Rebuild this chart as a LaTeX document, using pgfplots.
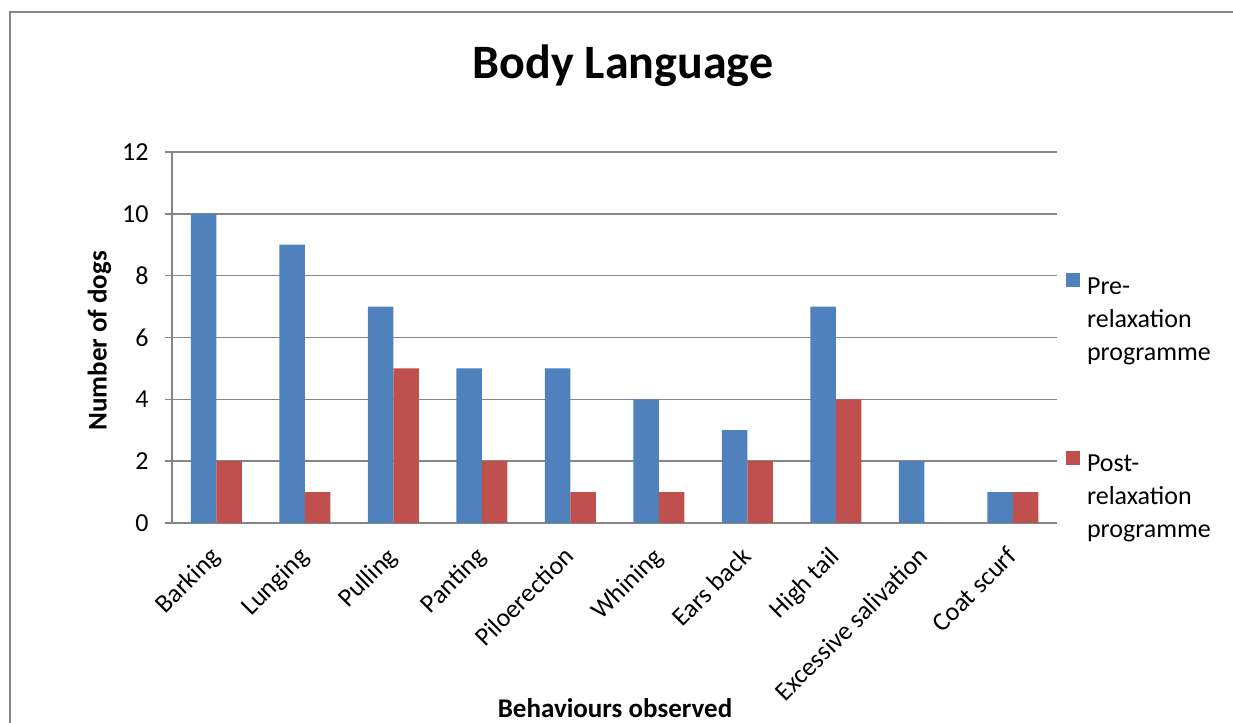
\documentclass[border=0pt]{standalone}
\usepackage{fontspec}
\setmainfont{Carlito}
\usepackage{pgfplots}
\pgfplotsset{compat=1.18}
\definecolor{barblue}{RGB}{79,129,189}
\definecolor{barred}{RGB}{192,80,77}
\definecolor{gridgray}{RGB}{134,134,134}
\begin{document}
\begin{tikzpicture}[x=0.5bp,y=0.5bp]
\useasboundingbox (0,0) rectangle (1233,722);
\draw[gridgray, line width=1.2bp] (10,710) rectangle (1260,-30);
\begin{axis}[
  at={(86bp,99.5bp)}, anchor=south west,
  scale only axis, width=442.5bp, height=185.5bp,
  ybar=0pt, bar width=12.75bp,
  xmin=-0.5, xmax=9.5, ymin=0, ymax=12,
  ytick={0,2,...,12},
  xtick={0,...,9},
  xticklabels={Barking,Lunging,Pulling,Panting,Piloerection,Whining,Ears back,High tail,Excessive salivation,Coat scurf},
  axis x line*=bottom, axis y line*=left,
  axis line style={gridgray, line width=0.8bp, -},
  ymajorgrids, grid style={gridgray, line width=0.8bp},
  xtick style={draw=none},
  ytick style={gridgray, line width=0.8bp},
  tick align=outside, major tick length=3.5bp,
  /pgf/number format/assume math mode=true,
  tick label style={font=\fontsize{13bp}{15.6bp}\selectfont, black},
  xticklabel style={rotate=45, anchor=north east, inner sep=0pt, xshift=-8bp, yshift=-2.6bp},
  yticklabel style={inner sep=0pt, xshift=-8bp},
  title={\textbf{Body Language}},
  title style={font=\fontsize{24bp}{28bp}\selectfont, at={(rel axis cs:0.5096,1.166)}, anchor=base},
  xlabel={\textbf{Behaviours observed}},
  xlabel style={font=\fontsize{13.5bp}{16bp}\selectfont, at={(rel axis cs:0.5006,-0.523)}, anchor=base},
  ylabel={\textbf{Number of dogs}},
  ylabel style={font=\fontsize{13.5bp}{16bp}\selectfont, at={(rel axis cs:-0.082,0.491)}, anchor=center, rotate=0},
  legend style={at={(rel axis cs:1.003,0.690)}, anchor=north west, draw=none, fill=none,
    font=\fontsize{13bp}{16.5bp}\selectfont, row sep=75.5bp,
    nodes={inner sep=0pt}, column sep=3.5bp},
  legend cell align=left,
  legend image code/.code={\fill[#1] (0bp,-1.5bp) rectangle (7bp,5.5bp);},
]
\addplot[fill=barblue, draw=none] coordinates {(0,10) (1,9) (2,7) (3,5) (4,5) (5,4) (6,3) (7,7) (8,2) (9,1)};
\addplot[fill=barred, draw=none] coordinates {(0,2) (1,1) (2,5) (3,2) (4,1) (5,1) (6,2) (7,4) (8,0) (9,1)};
\legend{\begin{tabular}[t]{@{}l@{}}Pre-\\relaxation\\programme\end{tabular},
        \begin{tabular}[t]{@{}l@{}}Post-\\relaxation\\programme\end{tabular}}
\end{axis}
\end{tikzpicture}
\end{document}
